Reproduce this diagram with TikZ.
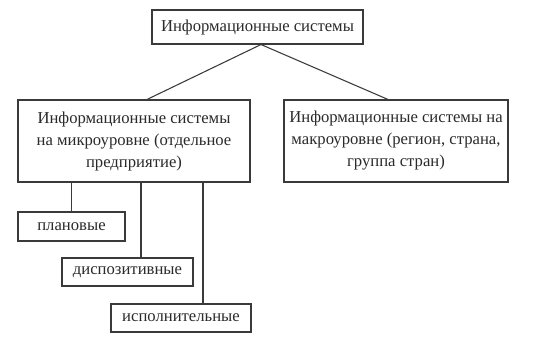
\documentclass[tikz,border=0pt]{standalone}
\usepackage{fontspec}
\setmainfont{Liberation Serif}
\usepackage{xcolor}
\usepackage{tikz}
\usetikzlibrary{positioning, calc}
\definecolor{boxline}{HTML}{3A3A3A}
\definecolor{boxtext}{HTML}{2A2A2A}

\begin{document}
\begin{tikzpicture}[x=0.75pt, y=-0.75pt,
    sysbox/.style={draw=boxline, line width=0.8pt, text=boxtext, align=center,
      inner sep=0pt, font=\fontsize{12.5}{16.5}\selectfont},
    link/.style={draw=boxline, line width=0.8pt}]
  \useasboundingbox (0,0) rectangle (552,343);
  \node[sysbox, minimum width=211*0.75pt, minimum height=34*0.75pt] (infsys) at (257.5,27)
    {Информационные системы};
  \node[sysbox, minimum width=232*0.75pt, minimum height=82*0.75pt] (micro) at (134,141)
    {Информационные системы\\на микроуровне (отдельное\\предприятие)};
  \node[sysbox, minimum width=224*0.75pt, minimum height=82*0.75pt] (macro) at (396,141)
    {Информационные системы на\\макроуровне (регион, страна,\\группа стран)};
  \node[sysbox, minimum width=107*0.75pt, minimum height=29*0.75pt] (plan) at (71.5,226.5)
    {плановые};
  \node[sysbox, minimum width=131*0.75pt, minimum height=28*0.75pt] (dispos) at (127.5,272)
    {диспозитивные};
  \node[sysbox, minimum width=140*0.75pt, minimum height=28*0.75pt] (ispoln) at (181,318)
    {исполнительные};
  % upper branches
  \draw[link] ($(infsys.south)+(3.5,0)$) -- ($(micro.north)+(13,0)$);
  \draw[link] ($(infsys.south)+(3.5,0)$) -- ($(macro.north)+(-8,0)$);
  % lower branches
  \draw[link] (plan.north |- micro.south) -- (plan.north);
  \draw[link] ($(dispos.north)+(13.5,0)$) coordinate (d) -- (d |- micro.south);
  \draw[link] ($(ispoln.north)+(22,0)$) coordinate (i) -- (i |- micro.south);
\end{tikzpicture}
\end{document}
